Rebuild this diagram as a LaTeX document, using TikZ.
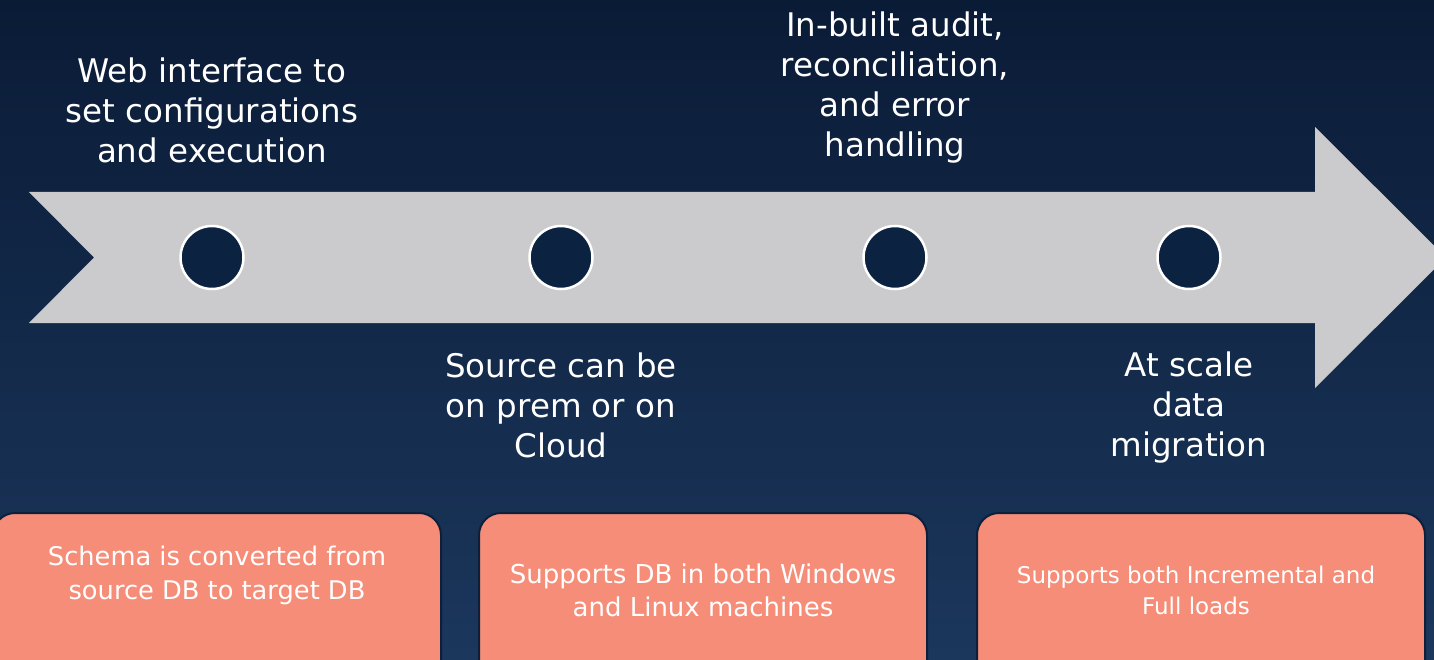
\documentclass[tikz,border=0pt]{standalone}
\usepackage{fontspec}
\setmainfont{DejaVu Sans}
\definecolor{bgtop}{HTML}{0A1B36}
\definecolor{bgbot}{HTML}{1B375C}
\definecolor{arrowgray}{HTML}{CBCBCD}
\definecolor{dotfill}{HTML}{0B2241}
\definecolor{salmon}{HTML}{F58D78}
\definecolor{boxedge}{HTML}{0D1F3A}
\tikzset{
  dot/.style={circle, fill=dotfill, draw=white, line width=2.5pt, minimum size=63pt, inner sep=0pt},
  label/.style={text=white, align=center, font=\fontsize{32.5}{40}\selectfont, inner sep=0pt},
  card/.style={fill=salmon, draw=boxedge, line width=2pt, rounded corners=22pt},
  cardtext/.style={text=white, align=center, inner sep=0pt},
}
\begin{document}
\begin{tikzpicture}[x=1pt,y=-1pt]
\useasboundingbox (0,0) rectangle (1434,660);
\clip (0,0) rectangle (1434,660);
\shade[top color=bgtop, bottom color=bgbot] (0,0) rectangle (1434,660);
% arrow
\fill[arrowgray] (29,192) -- (1315,192) -- (1315,127) -- (1446,257.5) -- (1315,388) -- (1315,323) -- (29,323) -- (94,257.5) -- cycle;
% dots
\node[dot] (c1) at (212,257.5) {};
\node[dot] (c2) at (561,257.5) {};
\node[dot] (c3) at (895,257.5) {};
\node[dot] (c4) at (1189,257.5) {};
% labels
\node[label] (t1) at (212,110) {Web interface to\\set configurations\\and execution};
\node[label] (t3) at (895,88) {In-built audit,\\reconciliation,\\and error\\handling};
\node[label] (t2) at (561,405) {Source can be\\on prem or on\\Cloud};
\node[label] (t4) at (1189,408) {At scale\\data\\migration};
% cards
\draw[card] (-7,513) rectangle (441,690);
\draw[card] (479,513) rectangle (927,690);
\draw[card] (977,513) rectangle (1425,690);
\node[cardtext, font=\fontsize{25.7}{34}\selectfont] (b1) at (217,575) {Schema is converted from\\source DB to target DB};
\node[cardtext, font=\fontsize{26}{33}\selectfont] (b2) at (703,590) {Supports DB in both Windows\\and Linux machines};
\node[cardtext, font=\fontsize{23}{31}\selectfont] (b3) at (1196,590) {Supports both Incremental and\\Full loads};
\end{tikzpicture}
\end{document}
